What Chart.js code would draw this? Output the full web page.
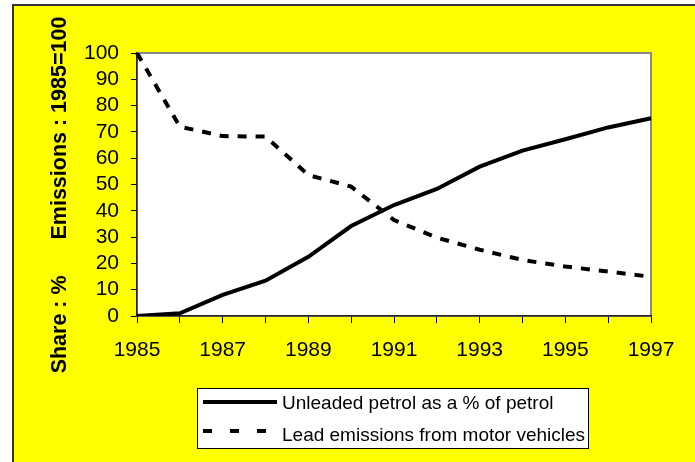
<!DOCTYPE html>
<html>
<head>
<meta charset="utf-8">
<script src="https://cdn.jsdelivr.net/npm/chart.js@4/dist/chart.umd.min.js"></script>
<style>
  html, body { margin: 0; padding: 0; background: #ffffff; }
  #wrap { width: 695px; height: 462px; }
</style>
</head>
<body>
<div id="wrap"><canvas id="c" width="695" height="462"></canvas></div>
<script>
// ---- data ----
const years = ['1985','1986','1987','1988','1989','1990','1991','1992','1993','1994','1995','1996','1997'];
const shownYears = ['1985','1987','1989','1991','1993','1995','1997'];
const unleadedShare = [0, 1, 8, 13.4, 22.5, 34.2, 42.2, 48.3, 56.8, 62.9, 67.2, 71.7, 75.2];
const leadEmissions = [100, 72, 68.4, 68.2, 53.6, 49.2, 36.5, 29.8, 25.2, 21.3, 18.8, 16.9, 14.9];
const seriesNames = ['Unleaded petrol as a % of petrol', 'Lead emissions from motor vehicles'];
const yTicks = [0, 10, 20, 30, 40, 50, 60, 70, 80, 90, 100];
const yTitle = 'Share : %      Emissions : 1985=100';

const FONT = '"Liberation Sans", Arial, sans-serif';

const backgroundPlugin = {
  id: 'bg',
  beforeDraw(chart) {
    const ctx = chart.ctx;
    const a = chart.chartArea;
    ctx.save();
    ctx.fillStyle = '#ffffff';
    ctx.fillRect(0, 0, chart.width, chart.height);
    ctx.fillStyle = '#ffff00';
    ctx.fillRect(12, 5, chart.width - 12, chart.height - 5);
    ctx.strokeStyle = '#333333';
    ctx.lineWidth = 2;
    ctx.beginPath();
    ctx.moveTo(13, chart.height);
    ctx.lineTo(13, 5);
    ctx.lineTo(chart.width, 5);
    ctx.stroke();
    // plot area
    ctx.fillStyle = '#ffffff';
    ctx.fillRect(a.left, a.top, a.right - a.left, a.bottom - a.top);
    ctx.strokeStyle = '#888888';
    ctx.lineWidth = 2;
    ctx.strokeRect(a.left, a.top, a.right - a.left, a.bottom - a.top);
    ctx.restore();
  }
};

const yTitlePlugin = {
  id: 'yTitle',
  afterDraw(chart) {
    const ctx = chart.ctx;
    ctx.save();
    ctx.translate(60, 195);
    ctx.rotate(-Math.PI / 2);
    ctx.fillStyle = '#000000';
    ctx.font = 'bold 21.5px ' + FONT;
    ctx.textAlign = 'center';
    ctx.textBaseline = 'middle';
    ctx.fillText(yTitle, 0, 0);
    ctx.restore();
  }
};

const legendPlugin = {
  id: 'boxLegend',
  afterDraw(chart) {
    const ctx = chart.ctx;
    const box = {x: 197.5, y: 388.5, w: 391, h: 60};
    ctx.save();
    ctx.fillStyle = '#ffffff';
    ctx.fillRect(box.x, box.y, box.w, box.h);
    ctx.strokeStyle = '#000000';
    ctx.lineWidth = 1;
    ctx.strokeRect(box.x, box.y, box.w, box.h);
    const rows = [402, 431];
    const baselines = [409, 441];
    const dashes = [[], [9, 18]];
    chart.data.datasets.forEach((ds, i) => {
      ctx.strokeStyle = ds.borderColor;
      ctx.lineWidth = 4;
      ctx.setLineDash(dashes[i]);
      ctx.beginPath();
      ctx.moveTo(203, rows[i]);
      ctx.lineTo(277, rows[i]);
      ctx.stroke();
      ctx.setLineDash([]);
      ctx.fillStyle = '#000000';
      ctx.font = '19px ' + FONT;
      ctx.textBaseline = 'alphabetic';
      ctx.textAlign = 'left';
      ctx.fillText(ds.label, 282, baselines[i]);
    });
    ctx.restore();
  }
};

new Chart(document.getElementById('c'), {
  type: 'line',
  data: {
    labels: years,
    datasets: [
      {
        label: seriesNames[0],
        data: unleadedShare,
        borderColor: '#000000',
        borderWidth: 4,
        pointRadius: 0,
        tension: 0,
        fill: false
      },
      {
        label: seriesNames[1],
        data: leadEmissions,
        borderColor: '#000000',
        borderWidth: 4,
        borderDash: [9, 9],
        pointRadius: 0,
        tension: 0,
        fill: false
      }
    ]
  },
  options: {
    responsive: false,
    devicePixelRatio: 1,
    animation: false,
    layout: { padding: { left: 0, top: 53, right: 44, bottom: 86 } },
    plugins: {
      legend: { display: false },
      tooltip: { enabled: false },
      title: { display: false }
    },
    scales: {
      x: {
        type: 'category',
        offset: false,
        afterFit(scale) { scale.height = 60; },
        grid: {
          display: true,
          drawOnChartArea: false,
          drawTicks: true,
          tickLength: 7,
          color: '#000000',
          offset: false
        },
        border: { display: true, color: '#222222', width: 1.5 },
        ticks: {
          autoSkip: false,
          maxRotation: 0,
          minRotation: 0,
          padding: 15,
          color: '#000000',
          font: { family: FONT, size: 21 },
          callback(value, index) {
            const lab = this.getLabelForValue(value);
            return shownYears.includes(lab) ? lab : '';
          }
        }
      },
      y: {
        min: 0,
        max: 100,
        afterFit(scale) { scale.width = 137; },
        afterBuildTicks(scale) { scale.ticks = yTicks.map(v => ({ value: v })); },
        grid: {
          display: true,
          drawOnChartArea: false,
          drawTicks: true,
          tickLength: 6,
          color: '#000000'
        },
        border: { display: true, color: '#222222', width: 1.5 },
        ticks: {
          autoSkip: false,
          padding: 12,
          color: '#000000',
          font: { family: FONT, size: 21 }
        },
        title: { display: false }
      }
    }
  },
  plugins: [backgroundPlugin, yTitlePlugin, legendPlugin]
});
</script>
</body>
</html>
